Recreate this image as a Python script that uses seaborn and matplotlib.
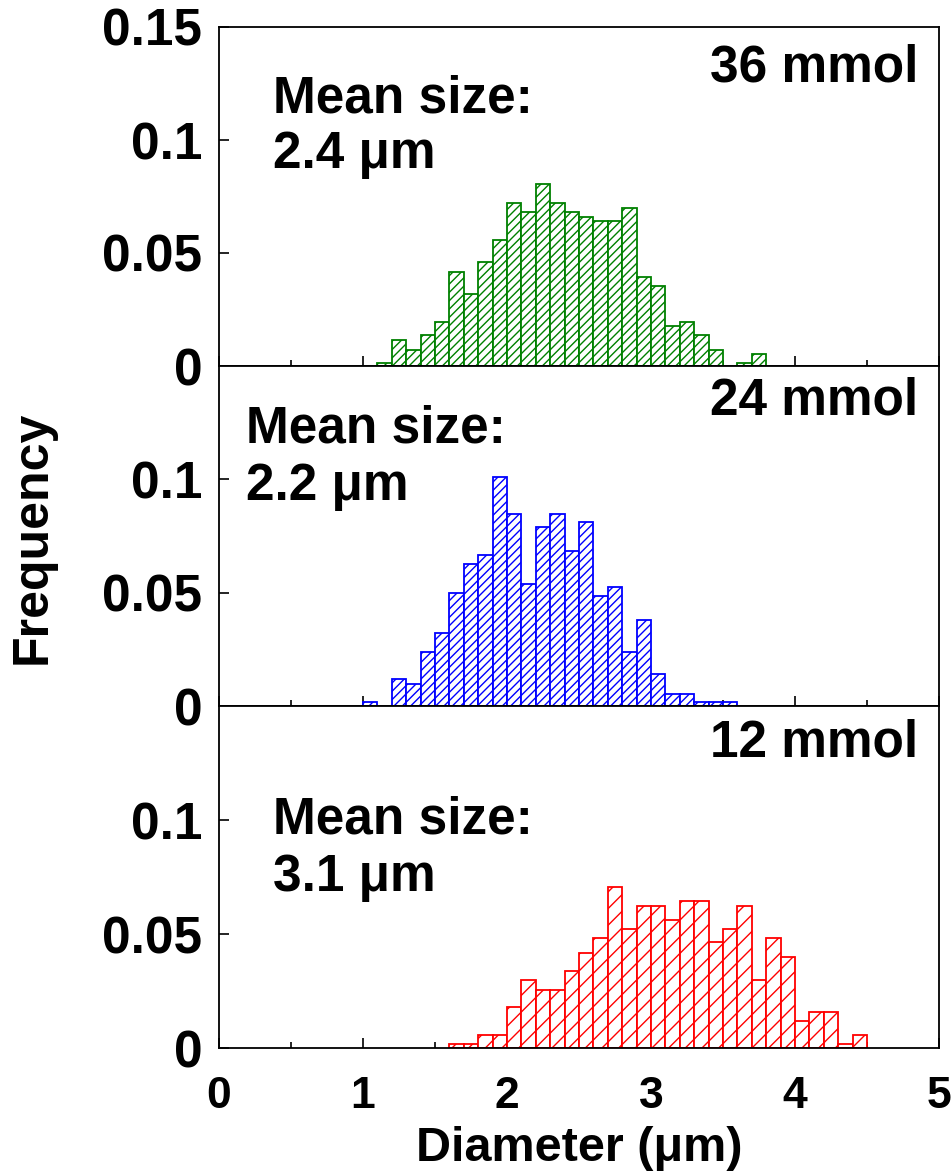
import numpy as np
import pandas as pd
import matplotlib
matplotlib.use("Agg")
import matplotlib.pyplot as plt
import seaborn as sns
from matplotlib.ticker import MultipleLocator

# ---------------- data ----------------
bin_left = [1.0, 1.1, 1.2, 1.3, 1.4, 1.5, 1.6, 1.7, 1.8, 1.9,
            2.0, 2.1, 2.2, 2.3, 2.4, 2.5, 2.6, 2.7, 2.8, 2.9,
            3.0, 3.1, 3.2, 3.3, 3.4, 3.5, 3.6, 3.7, 3.8, 3.9,
            4.0, 4.1, 4.2, 4.3, 4.4, 4.5]
bin_width = 0.1

freq_36 = [0.0, 0.0015, 0.0115, 0.007, 0.0135, 0.0193, 0.0415, 0.0317, 0.046, 0.0558,
           0.072, 0.068, 0.0804, 0.072, 0.068, 0.066, 0.064, 0.064, 0.070, 0.0396,
           0.0356, 0.0176, 0.0193, 0.0135, 0.007, 0.0, 0.0015, 0.0052, 0.0, 0.0,
           0.0, 0.0, 0.0, 0.0, 0.0, 0.0]
freq_24 = [0.0016, 0.0, 0.0119, 0.0097, 0.0238, 0.032, 0.050, 0.0627, 0.0665, 0.101,
           0.0848, 0.054, 0.0789, 0.0848, 0.0686, 0.081, 0.0485, 0.0524, 0.0238, 0.038,
           0.014, 0.0055, 0.0055, 0.0016, 0.0016, 0.0016, 0.0, 0.0, 0.0, 0.0,
           0.0, 0.0, 0.0, 0.0, 0.0, 0.0]
freq_12 = [0.0, 0.0, 0.0, 0.0, 0.0, 0.0, 0.0018, 0.0018, 0.0057, 0.0057,
           0.018, 0.030, 0.0254, 0.0254, 0.0339, 0.0418, 0.0484, 0.0704, 0.0522, 0.0625,
           0.0625, 0.0562, 0.0646, 0.0646, 0.0463, 0.0522, 0.0625, 0.030, 0.0484, 0.0399,
           0.0119, 0.0159, 0.0159, 0.0018, 0.0057, 0.0]

series = [freq_36, freq_24, freq_12]
panel_labels = ["36 mmol", "24 mmol", "12 mmol"]
mean_titles = ["Mean size:", "Mean size:", "Mean size:"]
mean_values = ["2.4 \u03bcm", "2.2 \u03bcm", "3.1 \u03bcm"]
colors = ["#008000", "#0000FF", "#FF0000"]
hatches = ["////", "////", "//"]

y_ticks_top = [0, 0.05, 0.1, 0.15]
y_labels_top = ["0", "0.05", "0.1", "0.15"]
y_ticks_other = [0, 0.05, 0.1]
y_labels_other = ["0", "0.05", "0.1"]
x_ticks = [0, 1, 2, 3, 4, 5]
x_labels = ["0", "1", "2", "3", "4", "5"]

x_label = "Diameter (\u03bcm)"
y_label = "Frequency"

# ---------------- style ----------------
sns.set_style("ticks")
plt.rcParams["font.family"] = ["Liberation Sans", "DejaVu Sans"]
plt.rcParams["font.weight"] = "bold"
plt.rcParams["hatch.linewidth"] = 1.0
for key in ["text.color", "axes.labelcolor", "xtick.color", "ytick.color",
            "xtick.labelcolor", "ytick.labelcolor", "axes.edgecolor"]:
    plt.rcParams[key] = "black"

W, H = 952, 1173
fig = plt.figure(figsize=(W / 100, H / 100), dpi=100)

left_px, right_px = 219, 939
panel_px = [(27, 366), (366, 706), (706, 1048)]

# text positions (axes fraction, baseline)
label_pos = [(0.971, 0.838), (0.971, 0.856), (0.971, 0.851)]
mean_pos = [(0.075, 0.749, 0.584), (0.0375, 0.776, 0.606), (0.075, 0.626, 0.46)]

edges = bin_left + [bin_left[-1] + bin_width]

for i, (freq, color) in enumerate(zip(series, colors)):
    top, bot = panel_px[i]
    ax = fig.add_axes([left_px / W, 1 - bot / H, (right_px - left_px) / W, (bot - top) / H])
    df = pd.DataFrame({"diameter": [b + bin_width / 2 for b in bin_left], "freq": freq})
    sns.histplot(data=df, x="diameter", weights="freq", bins=edges, ax=ax,
                 stat="count", element="bars", color=color)
    for p in ax.patches:
        p.set_facecolor("white")
        p.set_edgecolor(color)
        p.set_hatch(hatches[i])
        p.set_linewidth(1.3)
        p.set_alpha(1)
        if p.get_height() <= 0:
            p.set_visible(False)

    ax.set_xlim(0, 5)
    ax.set_ylim(0, 0.15)
    ax.set_xlabel("")
    ax.set_ylabel("")

    if i == 0:
        ax.set_yticks(y_ticks_top)
        ax.set_yticklabels(y_labels_top)
    else:
        ax.set_yticks(y_ticks_other)
        ax.set_yticklabels(y_labels_other)

    ax.set_xticks(x_ticks)
    ax.xaxis.set_minor_locator(MultipleLocator(0.5))
    if i == 2:
        ax.set_xticklabels(x_labels)
    else:
        ax.set_xticklabels([])

    ax.tick_params(axis="both", which="major", direction="in", length=7, width=1.2,
                   color="black", labelcolor="black")
    ax.tick_params(axis="x", which="minor", direction="in", length=4, width=1.2,
                   color="black")
    ax.tick_params(axis="y", which="major", labelsize=37, pad=12)
    ax.tick_params(axis="x", which="major", labelsize=32, pad=20)
    for lab in ax.get_xticklabels() + ax.get_yticklabels():
        lab.set_fontweight("bold")

    for s in ax.spines.values():
        s.set_visible(True)
        s.set_color("black")
        s.set_linewidth(1.3)

    lx, ly = label_pos[i]
    ax.text(lx, ly, panel_labels[i], transform=ax.transAxes, ha="right", va="baseline",
            fontsize=37, fontweight="bold", color="black")
    mx, my1, my2 = mean_pos[i]
    ax.text(mx, my1, mean_titles[i], transform=ax.transAxes, ha="left", va="baseline",
            fontsize=37, fontweight="bold", color="black")
    ax.text(mx, my2, mean_values[i], transform=ax.transAxes, ha="left", va="baseline",
            fontsize=37, fontweight="bold", color="black")

fig.text(33 / W, 1 - 537 / H, y_label, rotation=90, ha="center", va="center",
         fontsize=36, fontweight="bold", color="black")
fig.text((left_px + right_px) / 2 / W, 1 - 1161 / H, x_label, ha="center", va="baseline",
         fontsize=35, fontweight="bold", color="black")

fig.savefig("out.png", dpi=100)
